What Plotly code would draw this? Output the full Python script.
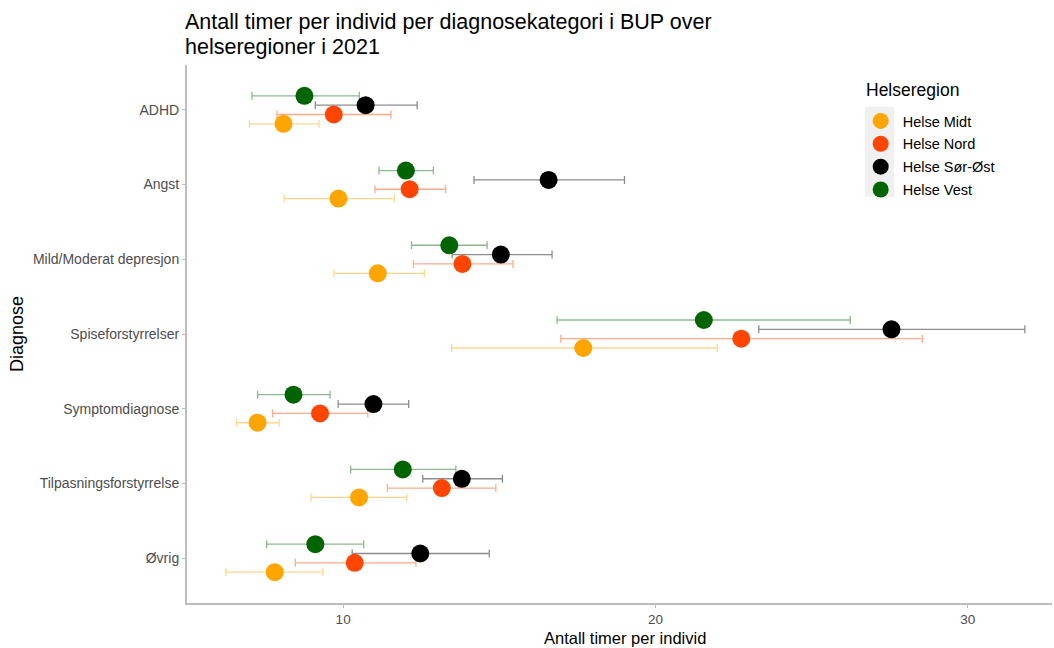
import plotly.graph_objects as go

# Diagnosis categories, top to bottom
categories = ["ADHD", "Angst", "Mild/Moderat depresjon", "Spiseforstyrrelser",
              "Symptomdiagnose", "Tilpasningsforstyrrelse", "Øvrig"]

regions = ["Helse Midt", "Helse Nord", "Helse Sør-Øst", "Helse Vest"]
colors = {"Helse Midt": "#FFA500", "Helse Nord": "#FF4500",
          "Helse Sør-Øst": "#000000", "Helse Vest": "#006400"}
bar_colors = {"Helse Midt": "rgba(255,165,0,0.45)", "Helse Nord": "rgba(255,69,0,0.45)",
              "Helse Sør-Øst": "rgba(0,0,0,0.45)", "Helse Vest": "rgba(0,100,0,0.45)"}

# Mean hours per individual, with lower and upper interval bounds
mean_midt = [8.09, 9.85, 11.11, 17.69, 7.26, 10.51, 7.81]
low_midt = [7.00, 8.11, 9.71, 13.48, 6.58, 8.97, 6.25]
high_midt = [9.23, 11.64, 12.60, 21.98, 7.95, 12.04, 9.35]

mean_nord = [9.70, 12.13, 13.82, 22.75, 9.26, 13.16, 10.37]
low_nord = [7.88, 11.02, 12.25, 16.97, 7.74, 11.42, 8.47]
high_nord = [11.53, 13.28, 15.44, 28.55, 10.79, 14.89, 12.33]

mean_sorost = [10.72, 16.58, 15.05, 27.56, 10.97, 13.80, 12.47]
low_sorost = [9.11, 14.19, 13.49, 23.31, 9.84, 12.55, 10.29]
high_sorost = [12.37, 19.01, 16.69, 31.83, 12.10, 15.10, 14.68]

mean_vest = [8.76, 12.01, 13.40, 21.55, 8.41, 11.91, 9.11]
low_vest = [7.08, 11.15, 12.19, 16.85, 7.26, 10.24, 7.55]
high_vest = [10.52, 12.89, 14.61, 26.24, 9.58, 13.61, 10.66]

series = {
    "Helse Midt": (mean_midt, low_midt, high_midt),
    "Helse Nord": (mean_nord, low_nord, high_nord),
    "Helse Sør-Øst": (mean_sorost, low_sorost, high_sorost),
    "Helse Vest": (mean_vest, low_vest, high_vest),
}

n = len(categories)
base = [n - i for i in range(n)]           # ADHD at the top
dodge = {"Helse Midt": -0.1875, "Helse Nord": -0.0625,
         "Helse Sør-Øst": 0.0625, "Helse Vest": 0.1875}

FONT = "Liberation Sans, Arial, sans-serif"
AXIS_GREY = "#bdbdbd"
TOP, BOTTOM = 65, 45
plot_h = 648 - TOP - BOTTOM
fig = go.Figure()

# interval bars first so all points sit on top
for r in regions:
    m, lo, hi = series[r]
    fig.add_trace(go.Scatter(
        x=m, y=[b + dodge[r] for b in base], mode="markers",
        marker=dict(size=1, opacity=0),
        error_x=dict(type="data", symmetric=False,
                     array=[h - v for h, v in zip(hi, m)],
                     arrayminus=[v - l for v, l in zip(m, lo)],
                     color=bar_colors[r], thickness=1.3, width=4),
        showlegend=False, hoverinfo="skip"))

for r in regions:
    m, lo, hi = series[r]
    fig.add_trace(go.Scatter(
        x=m, y=[b + dodge[r] for b in base], mode="markers", name=r,
        legendgroup=r,
        marker=dict(size=18, color=colors[r], line=dict(width=0))))

# legend key background, in pixel terms converted to paper fractions
key_top, key_bottom = 106.7, 196.7
title_font = dict(size=21.5, family=FONT, color="#000000")
fig.update_layout(
    width=1054, height=648,
    margin=dict(l=187, r=2, t=TOP, b=BOTTOM),
    paper_bgcolor="white", plot_bgcolor="white",
    font=dict(family=FONT, color="#1a1a1a"),
    annotations=[
        dict(text="Antall timer per individ per diagnosekategori i BUP over",
             xref="paper", yref="paper", x=0, y=1, xshift=-4, yshift=43,
             xanchor="left", yanchor="middle", showarrow=False, font=title_font),
        dict(text="helseregioner i 2021",
             xref="paper", yref="paper", x=0, y=1, xshift=-4, yshift=18,
             xanchor="left", yanchor="middle", showarrow=False, font=title_font),
        dict(text="Antall timer per individ", xref="paper", yref="paper",
             x=0.5, y=0, xshift=5, yshift=-35, xanchor="center", yanchor="middle",
             showarrow=False, font=dict(size=16.5, family=FONT, color="#000000")),
        dict(text="Helseregion", xref="paper", yref="paper", x=0.7827, y=1,
             yshift=TOP - 90, xanchor="left", yanchor="middle", showarrow=False,
             font=dict(size=17.5, family=FONT, color="#000000")),
    ],
    shapes=[dict(type="rect", xref="paper", yref="paper", layer="below",
                 x0=0.7838, x1=0.8173,
                 y0=1 - (key_bottom - TOP) / plot_h, y1=1 - (key_top - TOP) / plot_h,
                 fillcolor="#f0f0f0", line=dict(width=0))],
    legend=dict(
        x=0.7765, y=1 - (105 - TOP) / plot_h, xanchor="left", yanchor="top",
        bgcolor="rgba(255,255,255,0)", font=dict(size=14.5, family=FONT, color="#000000"),
        itemsizing="trace", itemwidth=34, tracegroupgap=1),
    xaxis=dict(
        range=[5.0, 32.7], tickvals=[10, 20, 30], showgrid=False, zeroline=False,
        showline=True, linecolor=AXIS_GREY, linewidth=2, automargin=False,
        ticks="outside", ticklen=3, tickcolor=AXIS_GREY,
        tickfont=dict(size=13.5, color="#4d4d4d")),
    yaxis=dict(
        range=[0.4, n + 0.6], tickvals=base, ticktext=categories, showgrid=False,
        zeroline=False, showline=True, linecolor=AXIS_GREY, linewidth=2, automargin=False,
        ticks="outside", ticklen=3, tickcolor=AXIS_GREY,
        tickfont=dict(size=14, color="#4d4d4d"),
        title=dict(text="Diagnose", font=dict(size=18, color="#000000"), standoff=5)),
)

fig.write_html("out.html")
